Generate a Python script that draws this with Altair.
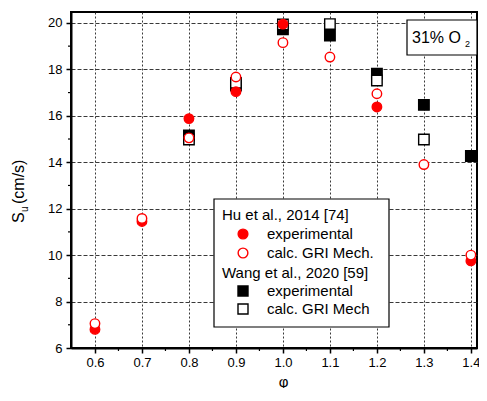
import altair as alt
import pandas as pd

# ---------------- data ----------------
phi = [0.6, 0.7, 0.8, 0.9, 1.0, 1.1, 1.2, 1.3, 1.4]
hu_exp = [6.8, 11.45, 15.88, 17.04, 19.95, None, 16.38, None, 9.75]
hu_calc = [7.05, 11.58, 15.05, 17.67, 19.15, 18.53, 16.95, 13.9, 10.0]
wang_exp = [None, None, 15.15, 17.3, 19.73, 19.46, 17.81, 16.47, 14.27]
wang_calc = [None, None, 14.98, 17.42, 19.93, 19.95, 17.52, 14.98, None]

x_ticks = [0.6, 0.7, 0.8, 0.9, 1.0, 1.1, 1.2, 1.3, 1.4]
x_minor = [0.65, 0.75, 0.85, 0.95, 1.05, 1.15, 1.25, 1.35]
y_ticks = [6, 8, 10, 12, 14, 16, 18, 20]
y_minor = [7, 9, 11, 13, 15, 17, 19]

x_title = "φ"
y_title_main = "S"
y_title_sub = "u"
y_title_unit = "(cm/s)"
note_main = "31% O"
note_sub = "2"
legend_labels = [
    "Hu et al., 2014 [74]",
    "experimental",
    "calc. GRI Mech.",
    "Wang et al., 2020 [59]",
    "experimental",
    "calc. GRI Mech",
]

# ---------------- layout ----------------
W, H = 406, 336
FONT = "Liberation Sans"
xs = alt.Scale(domain=[0.549, 1.413], nice=False, zero=False)
ys = alt.Scale(domain=[6, 20.47], nice=False, zero=False)

xaxis = alt.Axis(
    values=x_ticks, format=".1f", title=x_title,
    labelFont=FONT, labelFontSize=13, labelColor="black", labelPadding=3,
    titleFont=FONT, titleFontSize=15, titleFontWeight="normal", titleColor="black",
    titleX=212, titleY=33, titleBaseline="middle",
    grid=True, gridColor="#222", gridDash=[2, 2], gridWidth=0.9,
    domainColor="black", domainWidth=2,
    tickColor="black", tickSize=5, tickWidth=1.5,
)
yaxis = alt.Axis(
    values=y_ticks, format="d", title=None,
    labelFont=FONT, labelFontSize=13, labelColor="black", labelPadding=4,
    grid=True, gridColor="#222", gridDash=[4, 2], gridWidth=0.9,
    domainColor="black", domainWidth=2,
    tickColor="black", tickSize=5, tickWidth=1.5,
)


def series(vals, shape, fill, stroke, size):
    df = pd.DataFrame({"phi": phi, "su": vals}).dropna()
    return alt.Chart(df).mark_point(
        shape=shape, filled=True, fill=fill, stroke=stroke,
        strokeWidth=1.4, size=size, opacity=1,
    ).encode(
        x=alt.X("phi:Q", scale=xs, axis=xaxis),
        y=alt.Y("su:Q", scale=ys, axis=yaxis),
    )


minor_x = alt.Chart(pd.DataFrame({"v": x_minor})).mark_rule(
    color="black", strokeWidth=1.2
).encode(x=alt.X("v:Q", scale=xs, axis=xaxis), y=alt.value(H), y2=alt.value(H + 3))

minor_y = alt.Chart(pd.DataFrame({"v": y_minor})).mark_rule(
    color="black", strokeWidth=1.2
).encode(y=alt.Y("v:Q", scale=ys, axis=yaxis), x=alt.value(-3), x2=alt.value(0))

layers = [
    minor_x,
    minor_y,
    series(wang_exp, "square", "black", "black", 110),
    series(wang_calc, "square", "white", "black", 110),
    series(hu_exp, "circle", "red", "red", 90),
    series(hu_calc, "circle", "white", "red", 90),
]


def txt(s, x, y, size, angle=0, align="left", baseline="alphabetic"):
    return alt.Chart(pd.DataFrame({"t": [s]})).mark_text(
        font=FONT, fontSize=size, color="black", angle=angle,
        align=align, baseline=baseline,
    ).encode(text="t:N", x=alt.value(x), y=alt.value(y))


# y title built from text pieces (with subscript)
layers += [
    txt(y_title_main, -47, 211, 16, angle=270),
    txt(y_title_sub, -43, 200, 10, angle=270),
    txt(y_title_unit, -47, 192, 16, angle=270),
]

# "31% O2" box
box = alt.Chart(pd.DataFrame({"a": [0]})).mark_rect(
    fill="white", stroke="black", strokeWidth=1.2
).encode(x=alt.value(336), x2=alt.value(406), y=alt.value(8), y2=alt.value(43))
layers += [box, txt(note_main, 341, 31, 16), txt(note_sub, 394, 35, 9)]

# legend
LX0, LX1, LY0, LY1 = 143, 318, 187, 315
leg_box = alt.Chart(pd.DataFrame({"a": [0]})).mark_rect(
    fill="white", stroke="black", strokeWidth=1.2
).encode(x=alt.value(LX0), x2=alt.value(LX1), y=alt.value(LY0), y2=alt.value(LY1))
layers.append(leg_box)

row_y = [203, 222, 241, 261, 279, 297]
head_x, sym_x, item_x = 151, 172, 196
sym_style = {
    1: ("circle", "red", "red", 95),
    2: ("circle", "white", "red", 95),
    4: ("square", "black", "black", 100),
    5: ("square", "white", "black", 100),
}
for i, lab in enumerate(legend_labels):
    if i in sym_style:
        shape, fill, stroke, size = sym_style[i]
        layers.append(
            alt.Chart(pd.DataFrame({"a": [0]})).mark_point(
                shape=shape, filled=True, fill=fill, stroke=stroke,
                strokeWidth=1.4, size=size, opacity=1,
            ).encode(x=alt.value(sym_x), y=alt.value(row_y[i]))
        )
        layers.append(txt(lab, item_x, row_y[i], 15, baseline="middle"))
    else:
        layers.append(txt(lab, head_x, row_y[i], 15, baseline="middle"))

chart = alt.layer(*layers).properties(
    width=W, height=H,
    autosize=alt.AutoSizeParams(type="none"),
    padding={"left": 63, "top": 4, "right": 2, "bottom": 40},
    background="white",
).configure_view(stroke="black", strokeWidth=2)

chart.save("out.html", embed_options={"renderer": "svg", "actions": False})
